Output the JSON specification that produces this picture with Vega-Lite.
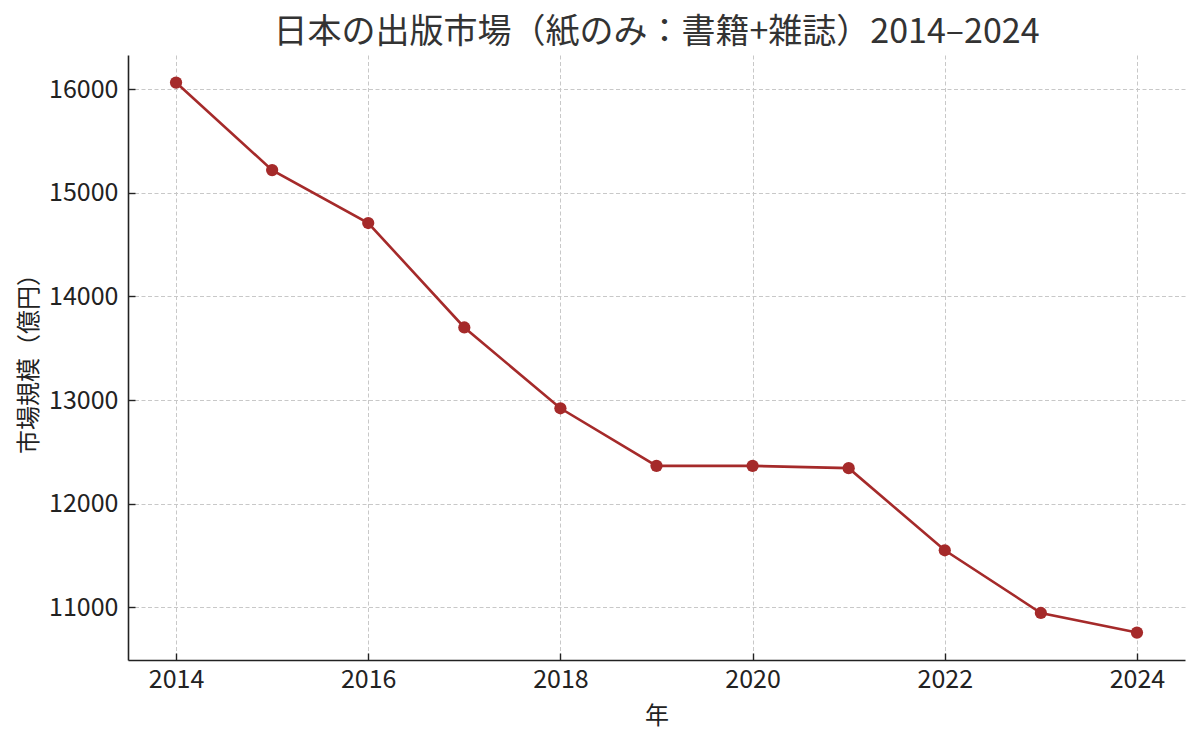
{
  "$schema": "https://vega.github.io/schema/vega-lite/v6.json",
  "width": 1057,
  "height": 605,
  "autosize": {"type": "none"},
  "padding": {"left": 128, "top": 55, "right": 15, "bottom": 84},
  "background": "white",
  "title": {
    "text": "日本の出版市場（紙のみ：書籍+雑誌）2014–2024",
    "font": "Noto Sans CJK JP",
    "fontSize": 34,
    "fontWeight": "normal",
    "color": "#333333",
    "anchor": "middle",
    "offset": 5
  },
  "config": {
    "view": {"stroke": null},
    "font": "Noto Sans CJK JP",
    "axis": {
      "labelFont": "Noto Sans CJK JP",
      "titleFont": "Noto Sans CJK JP",
      "labelFontSize": 25,
      "titleFontSize": 24,
      "titleFontWeight": "normal",
      "labelColor": "#222222",
      "titleColor": "#222222",
      "domainColor": "#222222",
      "domainWidth": 1.6,
      "tickColor": "#222222",
      "tickWidth": 1.4,
      "tickSize": -7,
      "grid": true,
      "gridColor": "#c8c8c8",
      "gridDash": [4, 2.5],
      "gridWidth": 1
    }
  },
  "data": {
    "values": [
      {"year": 2014, "value": 16065},
      {"year": 2015, "value": 15220},
      {"year": 2016, "value": 14709},
      {"year": 2017, "value": 13701},
      {"year": 2018, "value": 12921},
      {"year": 2019, "value": 12365},
      {"year": 2020, "value": 12365},
      {"year": 2021, "value": 12343},
      {"year": 2022, "value": 11550},
      {"year": 2023, "value": 10945},
      {"year": 2024, "value": 10756}
    ]
  },
  "encoding": {
    "x": {
      "field": "year",
      "type": "quantitative",
      "title": "年",
      "scale": {"domain": [2013.5, 2024.5], "nice": false, "zero": false},
      "axis": {"values": [2014, 2016, 2018, 2020, 2022, 2024], "format": "d", "labelPadding": 14, "titlePadding": 12}
    },
    "y": {
      "field": "value",
      "type": "quantitative",
      "title": "市場規模（億円）",
      "scale": {"domain": [10491, 16331], "nice": false, "zero": false},
      "axis": {"values": [11000, 12000, 13000, 14000, 15000, 16000], "format": "d", "labelPadding": 17, "titlePadding": 7}
    }
  },
  "layer": [
    {"mark": {"type": "line", "color": "#a52a2a", "strokeWidth": 2.6}},
    {"mark": {"type": "point", "filled": true, "color": "#a52a2a", "size": 150, "opacity": 1}}
  ]
}
